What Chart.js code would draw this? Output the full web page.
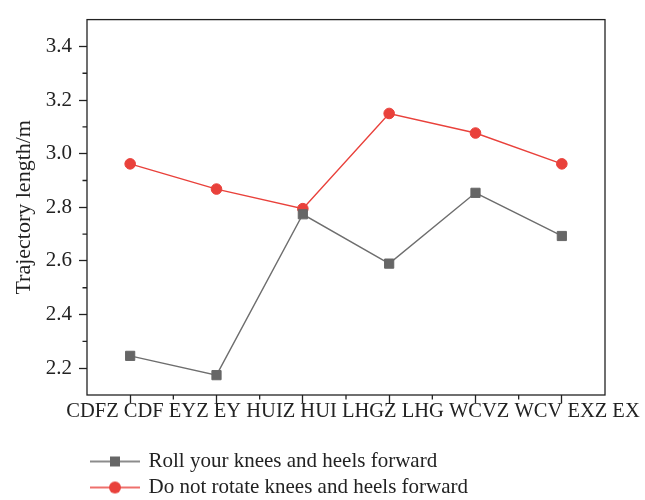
<!DOCTYPE html>
<html>
<head>
<meta charset="utf-8">
<script src="https://cdn.jsdelivr.net/npm/chart.js@4.4.0/dist/chart.umd.min.js"></script>
<style>
    body { margin: 0; background: #fff; }
    #chart { display: block; }
</style>
</head>
<body>
<canvas id="chart" width="645" height="500"></canvas>
<script>
// chart data
const categories = ['CDFZ CDF', 'EYZ EY', 'HUIZ HUI', 'LHGZ LHG', 'WCVZ WCV', 'EXZ EX'];
const rollValues = [2.246, 2.174, 2.774, 2.590, 2.854, 2.693];
const noRotateValues = [2.962, 2.868, 2.795, 3.150, 3.077, 2.962];
const yTicks = [2.2, 2.4, 2.6, 2.8, 3.0, 3.2, 3.4];
const yTitle = 'Trajectory length/m';
const seriesNames = ['Roll your knees and heels forward', 'Do not rotate knees and heels forward'];

const FONT = "'Liberation Serif', 'DejaVu Serif', serif";
const AXIS_COLOR = '#222';
const GRAY = '#666666';
const RED = '#e9413b';

// legend icon: short line with the marker in the middle
function makeLegendIcon(color, style) {
    const c = document.createElement('canvas');
    c.width = 50;
    c.height = 16;
    const g = c.getContext('2d');
    g.strokeStyle = color;
    g.lineWidth = 1.4;
    g.beginPath();
    g.moveTo(0, 8);
    g.lineTo(50, 8);
    g.stroke();
    g.fillStyle = color;
    if (style === 'rect') {
        g.fillRect(20, 3, 10, 10);
    } else {
        g.beginPath();
        g.arc(25, 8, 6, 0, Math.PI * 2);
        g.fill();
    }
    return c;
}

// frame around the plot, minor ticks, and the category text under the axis
const framePlugin = {
    id: 'frame',
    afterDraw(chart) {
        const ctx = chart.ctx;
        const area = chart.chartArea;
        const x = chart.scales.x;
        const y = chart.scales.y;
        ctx.save();
        ctx.strokeStyle = AXIS_COLOR;
        ctx.lineWidth = 1.3;
        ctx.strokeRect(area.left, area.top, area.right - area.left, area.bottom - area.top);

        ctx.beginPath();
        for (let i = 0; i < x.ticks.length - 1; i++) {
            const px = (x.getPixelForTick(i) + x.getPixelForTick(i + 1)) / 2;
            ctx.moveTo(px, area.bottom);
            ctx.lineTo(px, area.bottom + 4.5);
        }
        for (let i = 0; i < y.ticks.length - 1; i++) {
            const py = (y.getPixelForTick(i) + y.getPixelForTick(i + 1)) / 2;
            ctx.moveTo(area.left, py);
            ctx.lineTo(area.left - 4.5, py);
        }
        ctx.stroke();

        // the labels run as one line that is wider than the plot
        ctx.fillStyle = '#222';
        ctx.font = '20.5px ' + FONT;
        ctx.textAlign = 'center';
        ctx.textBaseline = 'middle';
        ctx.fillText(x.getLabels().join(' '), (area.left + area.right) / 2 + 7, area.bottom + 17);
        ctx.restore();
    }
};

const ctx = document.getElementById('chart').getContext('2d');

const chart = new Chart(ctx, {
    type: 'line',
    data: {
        labels: categories,
        datasets: [
            {
                label: seriesNames[0],
                data: rollValues,
                borderColor: '#6e6e6e',
                borderWidth: 1.4,
                pointStyle: 'rect',
                pointRadius: 6.5,
                pointBackgroundColor: GRAY,
                pointBorderColor: GRAY,
                pointBorderWidth: 1,
                tension: 0,
                legendIcon: makeLegendIcon(GRAY, 'rect')
            },
            {
                label: seriesNames[1],
                data: noRotateValues,
                borderColor: RED,
                borderWidth: 1.4,
                pointStyle: 'circle',
                pointRadius: 5.3,
                pointBackgroundColor: RED,
                pointBorderColor: RED,
                pointBorderWidth: 1,
                tension: 0,
                legendIcon: makeLegendIcon(RED, 'circle')
            }
        ]
    },
    options: {
        responsive: false,
        animation: false,
        layout: {
            padding: { top: 9, right: 40, left: 0, bottom: -8 }
        },
        scales: {
            x: {
                type: 'category',
                offset: true,
                afterFit: function(scale) {
                    scale.height = 51;
                },
                grid: {
                    drawOnChartArea: false,
                    offset: false,
                    color: AXIS_COLOR,
                    tickLength: 8,
                    tickWidth: 1.3
                },
                border: { display: false },
                ticks: { display: false }
            },
            y: {
                min: 2.1,
                max: 3.5,
                afterBuildTicks: function(scale) {
                    scale.ticks = yTicks.map(v => ({ value: v }));
                },
                afterFit: function(scale) {
                    scale.width = 87;
                },
                grid: {
                    drawOnChartArea: false,
                    color: AXIS_COLOR,
                    tickLength: 8,
                    tickWidth: 1.3
                },
                border: { display: false },
                ticks: {
                    color: '#222',
                    padding: 7,
                    font: { family: FONT, size: 21 },
                    callback: function(value) {
                        return Number(value).toFixed(1);
                    }
                },
                title: {
                    display: true,
                    text: yTitle,
                    color: '#222',
                    font: { family: FONT, size: 22, lineHeight: 1.2 },
                    padding: { top: 11, bottom: 0 }
                }
            }
        },
        plugins: {
            legend: {
                display: true,
                position: 'bottom',
                align: 'start',
                fullSize: false,
                labels: {
                    color: '#222',
                    font: { family: FONT, size: 21 },
                    padding: 5,
                    usePointStyle: true,
                    pointStyleWidth: 46,
                    generateLabels: function(chart) {
                        const items = Chart.defaults.plugins.legend.labels.generateLabels(chart);
                        items.forEach(item => {
                            item.pointStyle = chart.data.datasets[item.datasetIndex].legendIcon;
                        });
                        return items;
                    }
                }
            },
            tooltip: { enabled: false }
        }
    },
    plugins: [framePlugin]
});
</script>
</body>
</html>
